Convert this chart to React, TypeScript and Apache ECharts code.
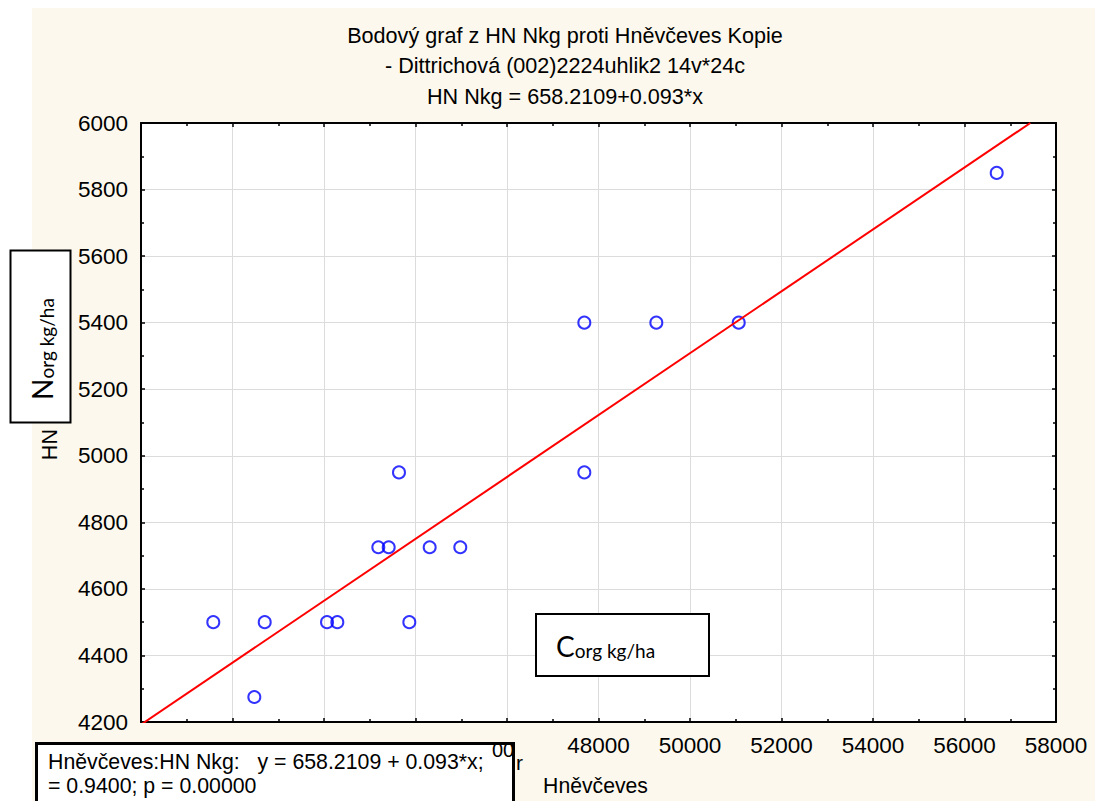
import React, { useEffect, useRef } from "react";
import * as echarts from "echarts";

const TITLE_LINES = [
  "Bodový graf z HN Nkg proti Hněvčeves Kopie",
  "- Dittrichová (002)2224uhlik2 14v*24c",
  "HN Nkg = 658.2109+0.093*x",
];
const X_NAME = "Hněvčeves";
const Y_NAME = "HN Nkg";
const X_VALUES = [39580, 40704, 40477, 42066, 42291, 43865, 43187, 43414, 43639, 44310, 44979, 47690, 47690, 49264, 51065, 56704];
const Y_VALUES = [4500, 4500, 4275, 4500, 4500, 4500, 4725, 4725, 4950, 4725, 4725, 4950, 5400, 5400, 5400, 5850];
const INTERCEPT = 658.2109;
const SLOPE = 0.093;
const X_MIN = 38000;
const X_MAX = 58000;
const X_STEP = 2000;
const X_FIRST_SHOWN_LABEL = 48000;
const Y_MIN = 4200;
const Y_MAX = 6000;
const Y_STEP = 200;
const STATS_LINES = ["Hněvčeves:HN Nkg:   y = 658.2109 + 0.093*x;", "= 0.9400; p = 0.00000"];

const CREAM = "#fcf8ed";
const FONT = "'Liberation Sans', Arial, sans-serif";
const SUB_FONT = "Lato, 'Open Sans', sans-serif";

export default function App() {
  const ref = useRef<HTMLDivElement>(null);
  useEffect(() => {
    if (!ref.current) return;
    const chart = echarts.init(ref.current, undefined, { renderer: "svg" });
    const points = X_VALUES.map((x, i) => [x, Y_VALUES[i]]);
    const xEnd = Math.min(X_MAX, (Y_MAX - INTERCEPT) / SLOPE);
    const fitLine = [
      [X_MIN, INTERCEPT + SLOPE * X_MIN],
      [xEnd, INTERCEPT + SLOPE * xEnd],
    ];
    const tickCommon = {
      axisLine: { show: true, onZero: false, lineStyle: { color: "#000", width: 2 } },
      axisTick: { show: true, inside: true, length: 4, lineStyle: { color: "#000", width: 1.5 } },
      minorTick: { show: true, splitNumber: 2, length: 3, lineStyle: { color: "#000", width: 1.5 } },
    };
    const option: any = {
      animation: false,
      backgroundColor: CREAM,
      textStyle: { fontFamily: FONT },
      title: {
        text: TITLE_LINES.join("\n"),
        left: 565,
        top: 20,
        padding: 0,
        textAlign: "center",
        textStyle: { fontFamily: FONT, fontSize: 21.6, fontWeight: "normal", color: "#000", lineHeight: 30.5 },
      },
      grid: {
        left: 141,
        right: 1095 - 1056,
        top: 123,
        bottom: 801 - 724,
        show: true,
        backgroundColor: "#fff",
        borderWidth: 0,
      },
      xAxis: [
        {
          type: "value",
          min: X_MIN,
          max: X_MAX,
          interval: X_STEP,
          name: X_NAME,
          nameLocation: "middle",
          nameGap: 53,
          nameTextStyle: { fontFamily: FONT, fontSize: 21.2, color: "#000", padding: [0, 6, 0, 0] },
          ...tickCommon,
          axisLabel: {
            fontFamily: FONT,
            fontSize: 22.5,
            color: "#000",
            margin: 12,
            formatter: (v: number) => (v >= X_FIRST_SHOWN_LABEL ? String(v) : ""),
          },
          splitLine: { show: true, lineStyle: { color: "#dcdcdc", width: 1 } },
        },
        {
          type: "value",
          position: "top",
          min: X_MIN,
          max: X_MAX,
          interval: X_STEP,
          ...tickCommon,
          axisLabel: { show: false },
          splitLine: { show: false },
        },
      ],
      yAxis: [
        {
          type: "value",
          min: Y_MIN,
          max: Y_MAX,
          interval: Y_STEP,
          name: Y_NAME,
          nameLocation: "middle",
          nameRotate: 90,
          nameGap: 80,
          nameTextStyle: { fontFamily: FONT, fontSize: 21.5, color: "#000" },
          ...tickCommon,
          axisLabel: { fontFamily: FONT, fontSize: 22.5, color: "#000", margin: 13, formatter: (v: number) => String(v) },
          splitLine: { show: true, lineStyle: { color: "#dcdcdc", width: 1 } },
        },
        {
          type: "value",
          position: "right",
          min: Y_MIN,
          max: Y_MAX,
          interval: Y_STEP,
          ...tickCommon,
          axisLabel: { show: false },
          splitLine: { show: false },
        },
      ],
      series: [
        {
          type: "scatter",
          xAxisIndex: 0,
          yAxisIndex: 0,
          data: points,
          symbol: "circle",
          symbolSize: 12,
          itemStyle: { color: "rgba(0,0,0,0)", borderColor: "#0000ff", borderWidth: 2 },
          z: 3,
        },
        {
          type: "line",
          xAxisIndex: 0,
          yAxisIndex: 0,
          data: fitLine,
          showSymbol: false,
          clip: true,
          lineStyle: { color: "#ff0000", width: 2 },
          z: 4,
        },
      ],
      graphic: [
        { type: "rect", z: 100, shape: { x: 0, y: 0, width: 32, height: 801 }, style: { fill: "#fff" } },
        { type: "rect", z: 100, shape: { x: 0, y: 0, width: 1095, height: 8 }, style: { fill: "#fff" } },
        {
          type: "rect",
          z: 101,
          shape: { x: 10.5, y: 250.5, width: 60, height: 172 },
          style: { fill: "#fff", stroke: "#000", lineWidth: 2 },
        },
        {
          type: "text",
          z: 102,
          x: 41,
          y: 349,
          rotation: Math.PI / 2,
          style: {
            text: "{a|N}{b|org kg/ha}",
            align: "center",
            verticalAlign: "middle",
            rich: {
              a: { fontFamily: SUB_FONT, fontSize: 28, lineHeight: 30, verticalAlign: "bottom", fill: "#000" },
              b: { fontFamily: SUB_FONT, fontSize: 19, lineHeight: 25, verticalAlign: "bottom", fill: "#000" },
            },
          },
        },
        {
          type: "rect",
          z: 101,
          shape: { x: 536, y: 614, width: 173, height: 62 },
          style: { fill: "#fff", stroke: "#000", lineWidth: 2 },
        },
        {
          type: "text",
          z: 102,
          x: 556,
          y: 645,
          style: {
            text: "{a|C}{b|org kg/ha}",
            align: "left",
            verticalAlign: "middle",
            rich: {
              a: { fontFamily: SUB_FONT, fontSize: 28, lineHeight: 30, verticalAlign: "bottom", fill: "#000" },
              b: { fontFamily: SUB_FONT, fontSize: 19, lineHeight: 25, verticalAlign: "bottom", fill: "#000" },
            },
          },
        },
        {
          type: "rect",
          z: 101,
          shape: { x: 36.5, y: 743.5, width: 477, height: 80 },
          style: { fill: "#fff", stroke: "#000", lineWidth: 3 },
        },
        {
          type: "text",
          z: 102,
          x: 48,
          y: 750,
          style: {
            text: STATS_LINES.join("\n"),
            fontFamily: FONT,
            fontSize: 21.3,
            lineHeight: 24,
            fill: "#000",
            align: "left",
            verticalAlign: "top",
          },
        },
        {
          type: "text",
          z: 103,
          x: 492,
          y: 750,
          style: { text: "00", fontFamily: FONT, fontSize: 20, fill: "#000", align: "left", verticalAlign: "middle" },
        },
        {
          type: "text",
          z: 103,
          x: 516,
          y: 762,
          style: { text: "r", fontFamily: FONT, fontSize: 21, fill: "#000", align: "left", verticalAlign: "middle" },
        },
      ],
    };
    chart.setOption(option);
    return () => chart.dispose();
  }, []);
  return <div ref={ref} style={{ position: "absolute", left: 0, top: 0, width: 1095, height: 801 }} />;
}
